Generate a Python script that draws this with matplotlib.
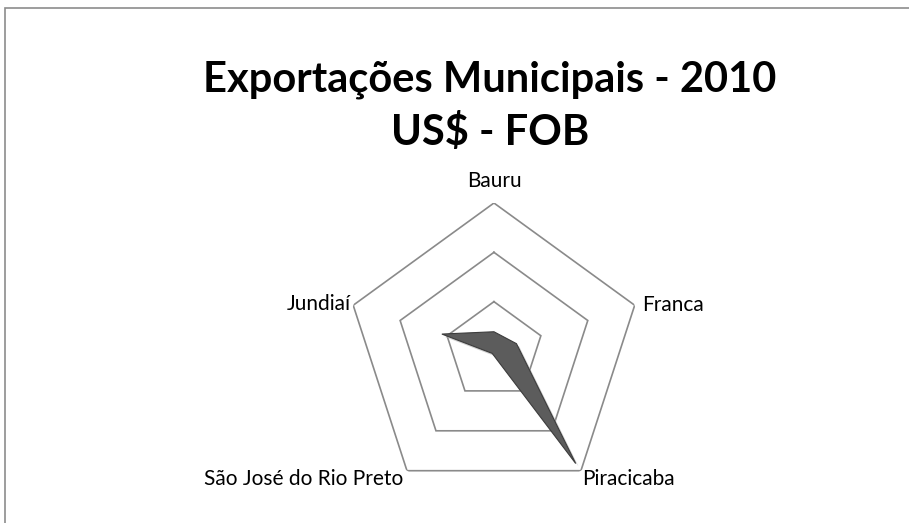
import numpy as np
import matplotlib.pyplot as plt
import matplotlib.patheffects as pe
from matplotlib.patches import Rectangle

# dados (US$ FOB, milhões - estimados do gráfico)
cidades = ["Bauru", "Franca", "Piracicaba", "São José do Rio Preto", "Jundiaí"]
exportacoes = [195, 240, 1410, 30, 555]
aneis = [500, 1000, 1500]

plt.rcParams['font.family'] = ['Lato', 'DejaVu Sans']

fig = plt.figure(figsize=(9.09, 5.23), dpi=100)

# moldura do gráfico
fig.patches.append(Rectangle((5 / 909, -0.1), 1.2, 1 - 8 / 523 + 0.1,
                             transform=fig.transFigure, fill=False,
                             edgecolor='#8c8c8c', linewidth=1.2))

fig.text(0.539, 0.797, "Exportações Municipais - 2010\nUS$ - FOB",
         ha='center', va='center', fontsize=30, fontweight='bold',
         linespacing=1.42)

ax = fig.add_axes([0.3806, 0.0459, 0.3256, 0.566], projection='polar')
ax.set_theta_offset(np.pi / 2)
ax.set_theta_direction(-1)
ax.set_ylim(0, aneis[-1])
ax.axis('off')

angulos = np.linspace(0, 2 * np.pi, len(cidades), endpoint=False)
ang_f = np.append(angulos, angulos[0])

for r in aneis:
    ax.plot(ang_f, [r] * len(ang_f), color='#8a8a8a', linewidth=1.2,
            solid_joinstyle='miter')

vals = np.append(exportacoes, exportacoes[0])
ax.fill(ang_f, vals, color='#5c5c5c', edgecolor='#3c3c3c', linewidth=0.8,
        zorder=3,
        path_effects=[pe.SimplePatchShadow(offset=(2, -2), shadow_rgbFace='#b0b0b0', alpha=0.6),
                      pe.Normal()])

# rótulos das categorias
desloc = [(0, 9, 'center', 'bottom'),
          (5, 0, 'left', 'center'),
          (1, -6, 'left', 'center'),
          (-3, -6, 'right', 'center'),
          (-2, 1, 'right', 'center')]
for a, nome, (dx, dy, ha, va) in zip(angulos, cidades, desloc):
    ax.annotate(nome, xy=(a, aneis[-1]), xytext=(dx, dy),
                textcoords='offset points', ha=ha, va=va, fontsize=15)

fig.savefig('out.png', dpi=100)
